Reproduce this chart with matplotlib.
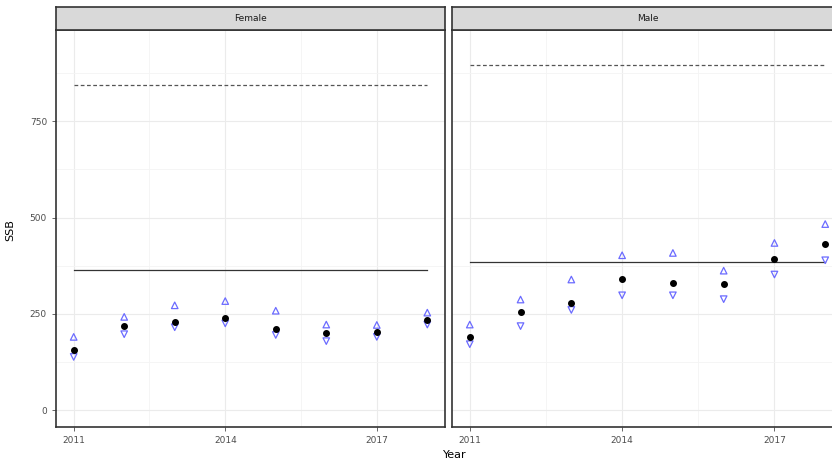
import matplotlib.pyplot as plt
from matplotlib.patches import Rectangle

# data
years = [2011, 2012, 2013, 2014, 2015, 2016, 2017, 2018]

female_ssb = [156, 219, 228, 238, 210, 201, 203, 235]
female_upper = [190, 242, 272, 283, 258, 222, 221, 253]
female_lower = [138, 197, 215, 225, 195, 179, 190, 222]
female_ref = 365
female_dash = 845

male_ssb = [190, 254, 279, 340, 331, 327, 391, 431]
male_upper = [222, 287, 339, 402, 408, 362, 434, 483]
male_lower = [171, 218, 260, 298, 298, 288, 352, 389]
male_ref = 385
male_dash = 895

panels = ["Female", "Male"]

W, H = 832, 466
fig = plt.figure(figsize=(W / 100, H / 100), dpi=100)
fig.patch.set_facecolor("white")


def px(x0, x1, y0, y1):
    # pixel box -> figure fraction rect
    return [x0 / W, 1 - y1 / H, (x1 - x0) / W, (y1 - y0) / H]


boxes = [(56, 445), (452, 843)]
data = [
    (female_ssb, female_upper, female_lower, female_ref, female_dash),
    (male_ssb, male_upper, male_lower, male_ref, male_dash),
]

border = "#333333"
axes = []
for i, (name, (x0, x1), d) in enumerate(zip(panels, boxes, data)):
    ax = fig.add_axes(px(x0, x1, 30, 427))
    ssb, up, lo, ref, dash = d
    ax.set_xlim(2011 - 0.35, 2018 + 0.35)
    ax.set_ylim(-44, 987)
    ax.set_xticks([2011, 2014, 2017])
    ax.set_xticks([2012.5, 2015.5], minor=True)
    ax.set_yticks([0, 250, 500, 750])
    ax.set_yticks([125, 375, 625, 875], minor=True)
    ax.grid(True, which="major", color="#ebebeb", lw=0.8, zorder=0)
    ax.grid(True, which="minor", color="#f4f4f4", lw=0.6, zorder=0)
    ax.set_axisbelow(True)
    for s in ax.spines.values():
        s.set_color(border)
        s.set_linewidth(1.2)
    ax.tick_params(axis="both", which="major", labelsize=6.5, colors="#4d4d4d",
                   length=3, width=0.6, labelcolor="#4d4d4d")
    ax.tick_params(which="minor", length=0)
    if i > 0:
        ax.tick_params(axis="y", labelleft=False, length=0)

    ax.plot([years[0], years[-1]], [ref, ref], color="#333333", lw=0.9, zorder=2)
    ax.plot([years[0], years[-1]], [dash, dash], color="#555555", lw=0.9,
            ls=(0, (3, 2)), zorder=2)
    ax.scatter(years, up, marker="^", facecolors="none", edgecolors="#6b6bff",
               s=22, lw=0.9, zorder=3)
    ax.scatter(years, lo, marker="v", facecolors="none", edgecolors="#6b6bff",
               s=22, lw=0.9, zorder=3)
    ax.scatter(years, ssb, marker="o", color="black", s=16, zorder=4)

    # facet strip
    sx = fig.add_axes(px(x0, x1, 7, 30))
    sx.set_xticks([])
    sx.set_yticks([])
    sx.set_facecolor("#d9d9d9")
    for s in sx.spines.values():
        s.set_color(border)
        s.set_linewidth(1.2)
    sx.text(0.5 if i == 0 else (W - x0) / (x1 - x0) * 0 + 0.5, 0.5, name,
            ha="center", va="center", fontsize=6.5, color="#1a1a1a",
            transform=sx.transAxes)
    axes.append(ax)

fig.text(10 / W, 1 - 230 / H, "SSB", rotation=90, ha="center", va="center",
         fontsize=8, color="black")
fig.text(455 / W, 1 - 455 / H, "Year", ha="center", va="center",
         fontsize=8, color="black")

fig.savefig("out.png", dpi=100, facecolor="white")
